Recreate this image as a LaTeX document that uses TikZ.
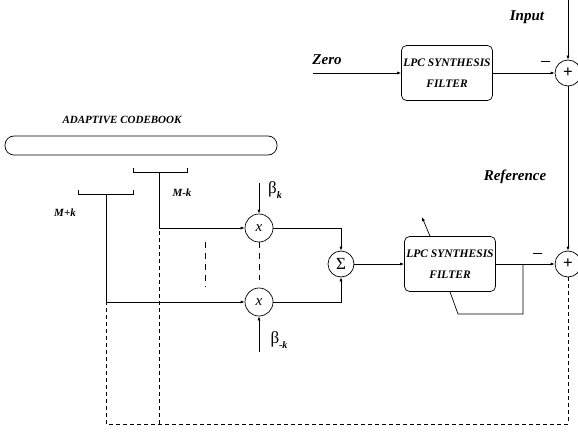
\documentclass[tikz,border=0pt]{standalone}
\usepackage{fontspec}
\setmainfont{Liberation Serif}
\usetikzlibrary{arrows.meta, positioning}

\begin{document}
\begin{tikzpicture}[x=1pt, y=-1pt, line width=0.7pt,
    >={Latex[length=4pt, width=3pt]},
    lbl/.style={font=\fontsize{15}{15}\selectfont\bfseries\itshape},
    small/.style={font=\fontsize{11}{11}\selectfont\bfseries\itshape},
    filterbox/.style={draw, rounded corners=5pt, minimum width=91pt, minimum height=55pt,
        inner xsep=0pt, align=center, font=\fontsize{11.5}{21}\selectfont\bfseries\itshape},
    sumnode/.style={draw, circle, minimum size=26pt, inner sep=0pt},
    mulnode/.style={draw, circle, minimum size=28pt, inner sep=0pt, font=\fontsize{15}{15}\selectfont\itshape},
    fb/.style={dash pattern=on 4pt off 3pt},
    gap/.style={dash pattern=on 6pt off 5pt}]
    \useasboundingbox (0,0) rectangle (578,433);

    % Reference branch
    \node[lbl] (input) at (527,17) {Input};
    \node[lbl] (zero) at (327,60) {Zero};
    \coordinate (zeroin) at (313,73);
    \coordinate (in) at (568,0);
    \node[filterbox] (lpc1) at (447,73) {LPC SYNTHESIS\\FILTER};
    \node[sumnode] (add1) at (568,73) {\fontsize{17}{17}\selectfont\bfseries +};
    \node (minus1) at (545,61) {\rule{9pt}{0.8pt}};
    \draw[->] (zeroin) -- (lpc1);
    \draw[->] (lpc1) -- (add1);
    \draw[->] (in) -- (add1);
    \node[lbl] (ref) at (515,177) {Reference};

    % Codebook
    \node[small] (booklabel) at (122,120) {ADAPTIVE CODEBOOK};
    \node[draw, rounded corners=9pt, minimum width=272pt, minimum height=19pt] (book) at (141,145.5) {};
    \draw (133,168) -- (133,172) -- (187,172) -- (187,168);
    \draw (78,190) -- (78,194) -- (133,194) -- (133,190);
    \coordinate (mk) at (159,172);
    \coordinate (mpk) at (106,194);
    \node[small] (mklabel) at (182,193) {M-k};
    \node[small] (mpklabel) at (65,213) {M+k};

    % Gains
    \node[mulnode] (mul1) at (259,228) {x};
    \node[mulnode] (mul2) at (259,302) {x};
    \coordinate (bk) at (259,183);
    \coordinate (bmk) at (259,352);
    \node (betak) at (275,190) {\fontsize{17}{17}\selectfont β\raisebox{-5pt}{\fontsize{10}{10}\selectfont\bfseries\itshape k}};
    \node (betamk) at (279,340) {\fontsize{17}{17}\selectfont β\raisebox{-5pt}{\fontsize{10}{10}\selectfont\bfseries\itshape -k}};
    \draw[->] (mk) |- (mul1);
    \draw[->] (mpk) |- (mul2);
    \draw[->] (bk) -- (mul1);
    \draw[->] (bmk) -- (mul2);
    \draw[gap] (mul1.south) -- ([yshift=8pt]mul2.north);
    \coordinate (dots1) at (205,242);
    \coordinate (dots2) at (205,287);
    \draw[gap] (dots1) -- (dots2);

    % Sum and synthesis
    \node[sumnode] (sigma) at (341,264) {\fontsize{17}{17}\selectfont Σ};
    \node[filterbox] (lpc2) at (450,264) {LPC SYNTHESIS\\FILTER};
    \node[sumnode] (add2) at (568,264) {\fontsize{17}{17}\selectfont\bfseries +};
    \node (minus2) at (537,253) {\rule{9pt}{0.8pt}};
    \draw[->] (mul1) -| (sigma);
    \draw[->] (mul2) -| (sigma);
    \draw[->] (sigma) -- (lpc2);
    \draw[->] (lpc2) -- (add2);
    \draw[->] (add1) -- (add2);
    \coordinate (tap) at (523,264);
    \draw (tap) -- (523,314) -- (458,314) -- (lpc2.south);
    \draw[->] ([xshift=-20pt]lpc2.north) -- ++(-8,-19);

    % Error feedback
    \coordinate (mkjoin) at (159,228);
    \coordinate (mpkjoin) at (106,302);
    \coordinate (bot1) at (106,424);
    \coordinate (bot2) at (159,424);
    \coordinate (bot3) at (568,424);
    \draw[fb] (add2) -- (bot3) -- (bot1) -- (mpkjoin);
    \draw[fb] (bot2) -- (mkjoin);
\end{tikzpicture}
\end{document}
